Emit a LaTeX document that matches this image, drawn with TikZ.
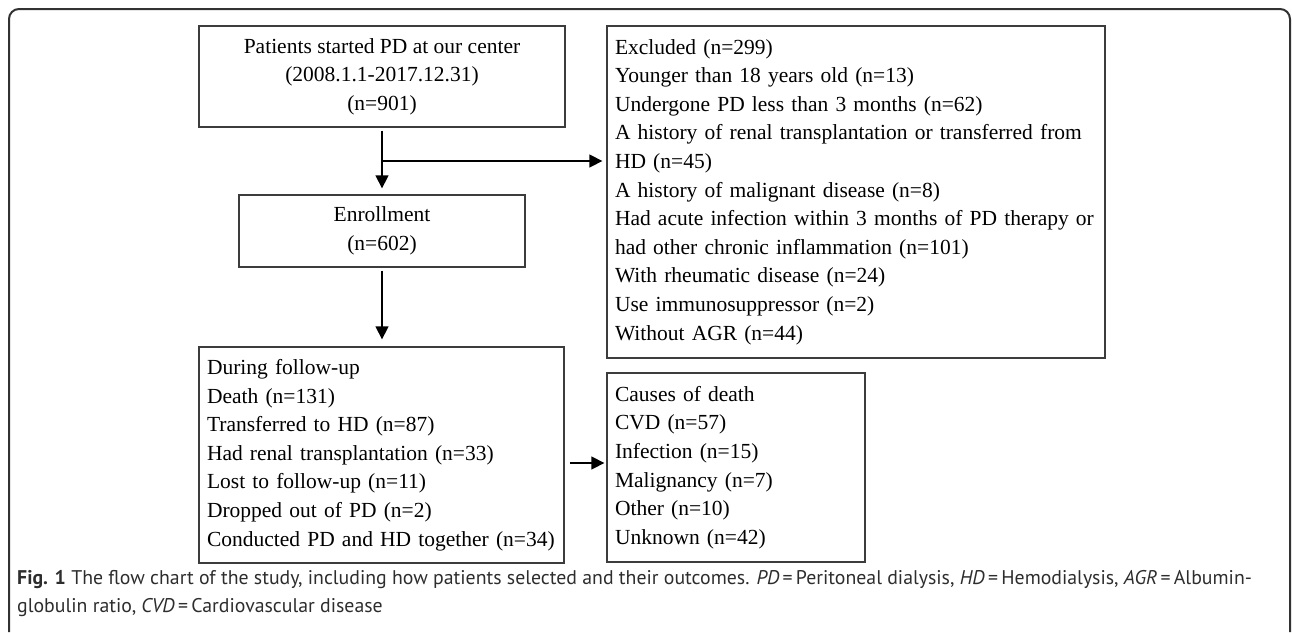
\documentclass[tikz,border=0pt]{standalone}
\usepackage{fontspec}
\setmainfont{Liberation Serif}
\newfontfamily\capfont{PT Sans}
\usepackage{tikz}
\usetikzlibrary{arrows.meta, positioning}
\definecolor{color1}{RGB}{60,60,60}
\definecolor{color2}{RGB}{50,50,50}
\definecolor{color3}{RGB}{45,45,45}

\begin{document}
\begin{tikzpicture}[x=1pt,y=-1pt,font=\fontsize{21.5}{28.6}\selectfont]

    \useasboundingbox (0,0) rectangle (1292,632);

    \tikzset{
    % boxes: centred text and listed text
    cbox/.style={draw=color1, line width=1.3pt, align=center, inner sep=0pt},
    lbox/.style={draw=color1, line width=1.3pt, align=left, inner xsep=8pt, inner ysep=0pt},
    arrow/.style={-{Triangle[length=13pt,width=13pt]}, line width=1.3pt, black},
    captxt/.style={anchor=west, inner sep=0pt, text=color3, font=\capfont\fontsize{19.8}{24}\selectfont}
    }

    % outer frame, open at the bottom
    \draw[color2, line width=2pt, rounded corners=10pt]
    (9,632) -- (9,9) -- (1290,9) -- (1290,632);

    \node (start) at (382,76.5) [cbox, minimum width=366pt, minimum height=101pt]
    {Patients started PD at our center\\(2008.1.1-2017.12.31)\\(n=901)};

    \node (enroll) at (382,231) [cbox, minimum width=286pt, minimum height=72pt]
    {Enrollment\\(n=602)};

    \node (excl) at (856,192) [lbox, text width=482pt, minimum height=332pt]
    {Excluded (n=299)\\
    Younger than 18 years old (n=13)\\
    Undergone PD less than 3 months (n=62)\\
    A history of renal transplantation or transferred from\\
    HD (n=45)\\
    A history of malignant disease (n=8)\\
    Had acute infection within 3 months of PD therapy or\\
    had other chronic inflammation (n=101)\\
    With rheumatic disease (n=24)\\
    Use immunosuppressor (n=2)\\
    Without AGR (n=44)};

    \node (follow) at (381.5,455) [lbox, text width=349pt, minimum height=216pt]
    {During follow-up\\
    Death (n=131)\\
    Transferred to HD (n=87)\\
    Had renal transplantation (n=33)\\
    Lost to follow-up (n=11)\\
    Dropped out of PD (n=2)\\
    Conducted PD and HD together (n=34)};

    \node (causes) at (736,467.5) [lbox, text width=242pt, minimum height=189pt]
    {Causes of death\\
    CVD (n=57)\\
    Infection (n=15)\\
    Malignancy (n=7)\\
    Other (n=10)\\
    Unknown (n=42)};

    % connectors
    \draw[arrow, shorten <=3pt, shorten >=6pt] (start) -- (enroll);
    \path (start.south) -- (enroll.north) coordinate[midway] (split);
    \draw[arrow, shorten >=4pt] (split) -- (split -| excl.west);
    \draw[arrow, shorten <=3pt, shorten >=7pt] (enroll.south) -- (enroll.south |- follow.north);
    \coordinate (dead) at ([yshift=4.5pt]causes.west);
    \draw[arrow, shorten <=5pt, shorten >=2pt] (follow.east |- dead) -- (dead);

    % caption
    \node (cap1) at (17,580) [captxt]
    {\textbf{Fig. 1} The flow chart of the study, including how patients selected and their outcomes. \textit{PD}\,=\,Peritoneal dialysis, \textit{HD}\,=\,Hemodialysis, \textit{AGR}\,=\,Albumin-};
    \node (cap2) at (17,608) [captxt]
    {globulin ratio, \textit{CVD}\,=\,Cardiovascular disease};
\end{tikzpicture}
\end{document}
